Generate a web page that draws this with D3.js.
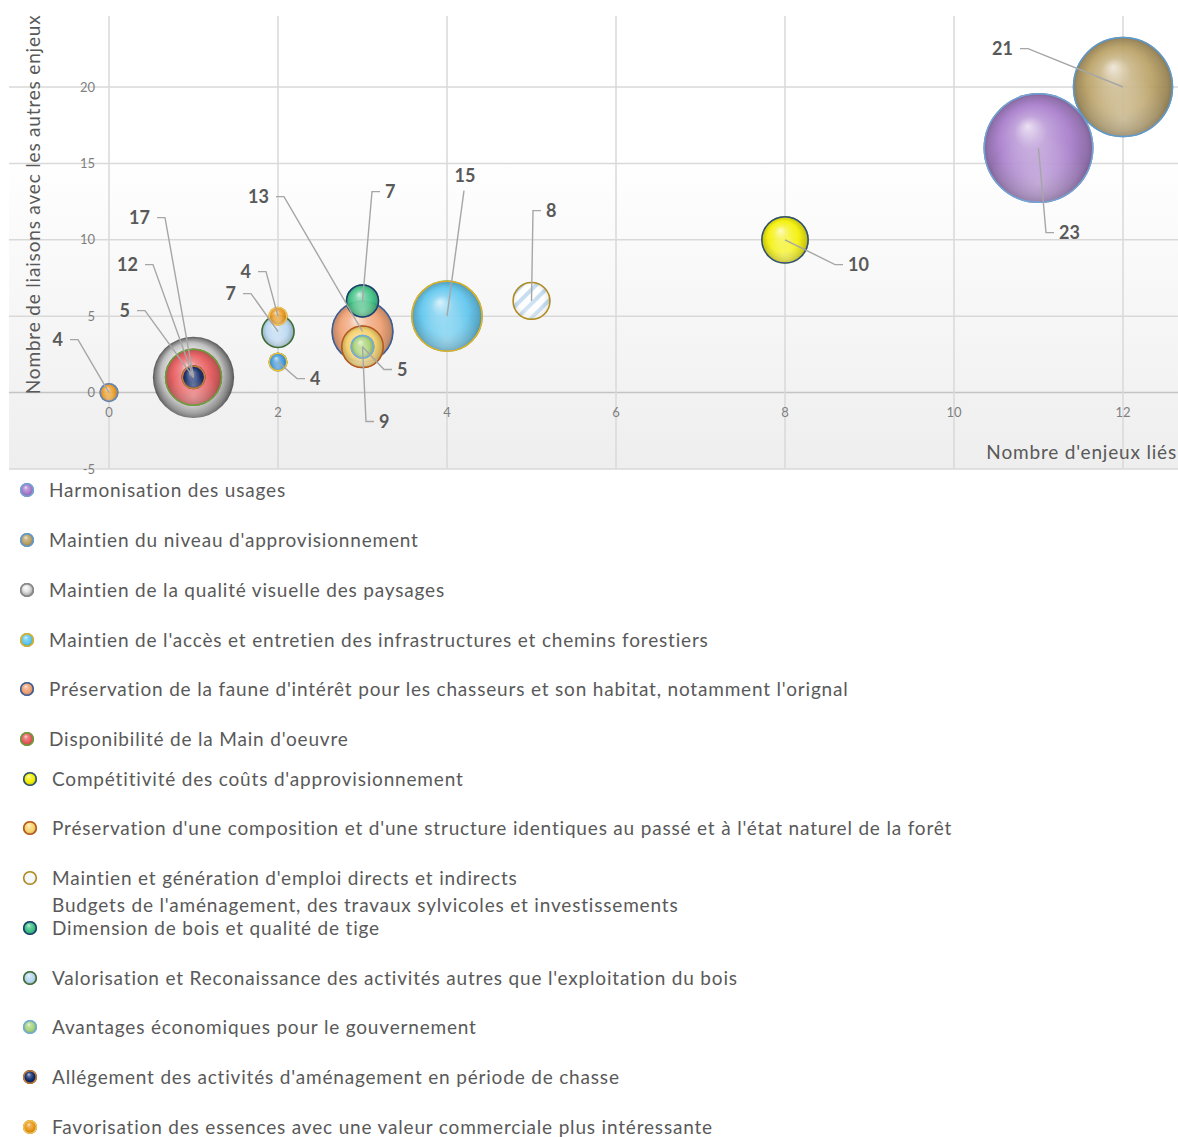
<!DOCTYPE html>
<html lang="fr">
<head>
<meta charset="utf-8">
<script src="https://cdn.jsdelivr.net/npm/d3@7"></script>
<style>
  html, body { margin: 0; padding: 0; background: #ffffff; }
  svg { display: block; font-family: Lato, "Open Sans", sans-serif; }
</style>
</head>
<body>
<svg id="chart" width="1178" height="1137"></svg>
<script>
// ---- Series (legend order) ----
const seriesNames = [
  "Harmonisation des usages",
  "Maintien du niveau d'approvisionnement",
  "Maintien de la qualité visuelle des paysages",
  "Maintien de l'accès et entretien des infrastructures et chemins forestiers",
  "Préservation de la faune d'intérêt pour les chasseurs et son habitat, notamment l'orignal",
  "Disponibilité de la Main d'oeuvre",
  "Compétitivité des coûts d'approvisionnement",
  "Préservation d'une composition et d'une structure identiques au passé et à l'état naturel de la forêt",
  "Maintien et génération d'emploi directs et indirects",
  "Budgets de l'aménagement, des travaux sylvicoles et investissements",
  "Dimension de bois et qualité de tige",
  "Valorisation et Reconaissance des activités autres que l'exploitation du bois",
  "Avantages économiques pour le gouvernement",
  "Allégement des activités d'aménagement en période de chasse",
  "Favorisation des essences avec une valeur commerciale plus intéressante"
];

// ---- Bubbles: series index, linked issues (x), links (y), bubble size ----
const pointSeries = [0, 1, 2, 3, 4, 5, 6, 7, 8, 9, 10, 11, 12, 13, 14, 14];
const pointX      = [11, 12, 1, 4, 3, 1, 8, 3, 5, 2, 3, 2, 3, 1, 2, 0];
const pointY      = [16, 20, 1, 5, 4, 1, 10, 3, 6, 2, 6, 4, 3, 1, 5, 0];
const pointSize   = [23, 21, 17, 15, 13, 12, 10, 9, 8, 4, 7, 7, 5, 5, 4, 4];

// ---- Axis ticks ----
const xTicks = [0, 2, 4, 6, 8, 10, 12];
const yTicks = [-5, 0, 5, 10, 15, 20];
const xTitle = "Nombre d'enjeux liés";
const yTitle = "Nombre de liaisons avec les autres enjeux";

// ---- Appearance ----
const seriesStyle = [
  { fill: "#a77ccb", stroke: "#6fa6d8" },
  { fill: "#b9a064", stroke: "#5b9bd5" },
  { fill: "#c4c4c4", stroke: "none", gray: true },
  { fill: "#5ec6ee", stroke: "#e2b21c" },
  { fill: "#f0a072", stroke: "#35609f" },
  { fill: "#e85a5c", stroke: "#66a33a" },
  { fill: "#f4f000", stroke: "#2b4f7f" },
  { fill: "#f6d46e", stroke: "#b8561c" },
  { fill: "#ffffff", stroke: "#b08a18", striped: true },
  { fill: "#3592d8", stroke: "#efc12a", noLegend: true },
  { fill: "#3cc283", stroke: "#1f3c72" },
  { fill: "#b6d6f0", stroke: "#3e6e2c" },
  { fill: "#a7d47a", stroke: "#70ade0" },
  { fill: "#0b2a6c", stroke: "#c77a32" },
  { fill: "#e8961a", stroke: "#f2c454" }
];
// outline override for the bubble sitting on the origin
const pointStrokeOverride = { 15: "#5a86c8" };

// Data-label placement: elbow offset from the bubble centre and text side
const labelLayout = [
  { dx: 7.5, dy: 84.5, side: 1 },
  { dx: -95, dy: -38.4, side: -1 },
  { dx: -28.5, dy: -159.7, side: -1 },
  { dx: 17, dy: -125.6, side: 0 },
  { dx: -78.5, dy: -134.9, side: -1 },
  { dx: -40.5, dy: -112.7, side: -1 },
  { dx: 50, dy: 24.8, side: 1 },
  { dx: 3.5, dy: 74.8, side: 1 },
  { dx: 1.5, dy: -90.3, side: 1 },
  { dx: 19, dy: 16.6, side: 1 },
  { dx: 9.5, dy: -109.3, side: 1 },
  { dx: -27, dy: -37.9, side: -1 },
  { dx: 21.5, dy: 22.8, side: 1 },
  { dx: -48.5, dy: -66.7, side: -1 },
  { dx: -12, dy: -44.6, side: -1 },
  { dx: -31, dy: -53, side: -1 }
];

const svg = d3.select("#chart");
const plot = { left: 9, right: 1178, top: 16, bottom: 469 };
const textSpacing = "0.82px";

const x = d3.scaleLinear().domain([0, 12]).range([109, 1123]);
const y = d3.scaleLinear().domain([-5, 20]).range([469, 87]);
const r = d3.scaleLinear().domain([0, 23]).range([0, 55]);

const defs = svg.append("defs");

// plot background
const bg = defs.append("linearGradient").attr("id", "plotBg")
  .attr("x1", 0).attr("y1", 0).attr("x2", 0).attr("y2", 1);
bg.append("stop").attr("offset", "0%").attr("stop-color", "#ffffff");
bg.append("stop").attr("offset", "30%").attr("stop-color", "#ffffff");
bg.append("stop").attr("offset", "100%").attr("stop-color", "#eeeeee");

const mix = (a, b, t) => d3.interpolateRgb(a, b)(t);

function sphereGradient(id, base, gray) {
  const g = defs.append("radialGradient").attr("id", id)
    .attr("cx", "50%").attr("cy", "50%").attr("r", "50%")
    .attr("fx", "40%").attr("fy", "30%");
  const stops = gray
    ? [[0, "#ffffff"], [0.45, "#e6e6e6"], [0.75, "#bcbcbc"], [0.92, "#777777"], [1, "#4a4a4a"]]
    : [[0, mix(base, "#ffffff", 0.75)], [0.3, mix(base, "#ffffff", 0.25)],
       [0.65, base], [0.9, mix(base, "#000000", 0.18)], [1, mix(base, "#000000", 0.32)]];
  stops.forEach(([o, c]) => g.append("stop").attr("offset", o).attr("stop-color", c));
}
seriesStyle.forEach((s, i) => sphereGradient("sph" + i, s.fill, s.gray));

// soft reflection near the bottom of each sphere
const refl = defs.append("radialGradient").attr("id", "reflect")
  .attr("cx", "50%").attr("cy", "82%").attr("r", "45%");
refl.append("stop").attr("offset", "0%").attr("stop-color", "#ffffff").attr("stop-opacity", 0.35);
refl.append("stop").attr("offset", "100%").attr("stop-color", "#ffffff").attr("stop-opacity", 0);

// diagonal stripes
const pat = defs.append("pattern").attr("id", "stripes")
  .attr("patternUnits", "userSpaceOnUse").attr("width", 10).attr("height", 10)
  .attr("patternTransform", "rotate(-45)");
pat.append("rect").attr("width", 10).attr("height", 10).attr("fill", "#ffffff");
pat.append("rect").attr("width", 10).attr("height", 4).attr("fill", "#a9cdea");

// ---- plot area ----
svg.append("rect")
  .attr("x", plot.left).attr("y", plot.top)
  .attr("width", plot.right - plot.left).attr("height", plot.bottom - plot.top)
  .attr("fill", "url(#plotBg)");

const grid = svg.append("g");
grid.selectAll("line.h").data(yTicks).join("line")
  .attr("x1", plot.left).attr("x2", plot.right)
  .attr("y1", d => y(d)).attr("y2", d => y(d))
  .attr("stroke", d => d === 0 ? "#c4c4c4" : "#d9d9d9").attr("stroke-width", 1.5);
grid.selectAll("line.v").data(xTicks).join("line")
  .attr("y1", plot.top).attr("y2", plot.bottom)
  .attr("x1", d => x(d)).attr("x2", d => x(d))
  .attr("stroke", "#d9d9d9").attr("stroke-width", 1.5);

// tick labels
svg.append("g").selectAll("text").data(yTicks).join("text")
  .attr("x", x(0) - 14).attr("y", d => y(d)).attr("dy", "0.35em")
  .attr("text-anchor", "end").attr("font-size", 13).attr("fill", "#7f7f7f")
  .text(d => d);
svg.append("g").selectAll("text").data(xTicks).join("text")
  .attr("x", d => x(d)).attr("y", y(0) + 20).attr("dy", "0.35em")
  .attr("text-anchor", "middle").attr("font-size", 13).attr("fill", "#7f7f7f")
  .text(d => d);

// axis titles
svg.append("text")
  .attr("transform", `translate(40, ${(plot.top + y(0)) / 2}) rotate(-90)`)
  .attr("text-anchor", "middle").attr("font-size", 19).attr("fill", "#595959")
  .attr("letter-spacing", textSpacing)
  .text(yTitle);
svg.append("text")
  .attr("x", plot.right - 1).attr("y", 452).attr("dy", "0.35em")
  .attr("text-anchor", "end").attr("font-size", 19).attr("fill", "#595959")
  .attr("letter-spacing", textSpacing)
  .text(xTitle);

// ---- bubbles (larger drawn first) ----
const points = pointSeries.map((s, i) => ({
  i, s, x: pointX[i], y: pointY[i], size: pointSize[i]
}));
const order = points.slice().sort((a, b) => b.size - a.size || a.i - b.i);

const bubbles = svg.append("g").selectAll("g").data(order).join("g")
  .attr("transform", d => `translate(${x(d.x)},${y(d.y)})`);

bubbles.each(function (d) {
  const g = d3.select(this);
  const st = seriesStyle[d.s];
  const rad = r(d.size);
  if (st.striped) {
    g.append("circle").attr("r", rad).attr("fill", "url(#stripes)");
    g.append("circle").attr("r", rad).attr("fill", "url(#sph" + d.s + ")").attr("fill-opacity", 0.35);
  } else {
    g.append("circle").attr("r", rad).attr("fill", "url(#sph" + d.s + ")").attr("fill-opacity", 0.93);
  }
  g.append("circle").attr("r", rad).attr("fill", "url(#reflect)");
  const stroke = pointStrokeOverride[d.i] || st.stroke;
  if (stroke !== "none") {
    g.append("circle").attr("r", rad - 0.75).attr("fill", "none")
      .attr("stroke", stroke).attr("stroke-width", 1.5);
  }
});

// ---- data labels with leader lines ----
const labels = svg.append("g");
points.forEach(p => {
  const L = labelLayout[p.i];
  const cx = x(p.x), cy = y(p.y);
  const ex = cx + L.dx, ey = cy + L.dy;
  let pts, tx, ty, anchor;
  if (L.side === 0) {
    pts = [[cx, cy], [ex, ey]];
    tx = ex + 1; ty = ey - 15; anchor = "middle";
  } else {
    pts = [[cx, cy], [ex, ey], [ex + L.side * 8, ey]];
    tx = ex + (L.side > 0 ? 13 : -15); ty = ey; anchor = L.side > 0 ? "start" : "end";
  }
  labels.append("path")
    .attr("d", d3.line()(pts))
    .attr("fill", "none").attr("stroke", "#a6a6a6").attr("stroke-width", 1.4);
  labels.append("text")
    .attr("x", tx).attr("y", ty).attr("dy", "0.35em")
    .attr("text-anchor", anchor).attr("font-size", 18).attr("font-weight", 700)
    .attr("fill", "#595959").text(p.size);
});

// ---- legend ----
const legendRowY = [490, 540, 590, 640, 689, 739, 779, 828, 878, 905, 928, 978, 1027, 1077, 1127];
const legend = svg.append("g");
seriesNames.forEach((name, i) => {
  const st = seriesStyle[i];
  const mx = i < 6 ? 27 : 30;
  const row = legend.append("g").attr("transform", `translate(0,${legendRowY[i]})`);
  if (!st.noLegend) {
    if (st.striped) {
      row.append("circle").attr("cx", mx).attr("r", 7).attr("fill", "#eef4fb");
      row.append("circle").attr("cx", mx).attr("r", 7).attr("fill", "url(#sph" + i + ")").attr("fill-opacity", 0.4);
    } else {
      row.append("circle").attr("cx", mx).attr("r", 7).attr("fill", "url(#sph" + i + ")");
    }
    const stroke = st.stroke === "none" ? "#8a8a8a" : st.stroke;
    row.append("circle").attr("cx", mx).attr("r", 6.3).attr("fill", "none")
      .attr("stroke", stroke).attr("stroke-width", 1.6);
  }
  row.append("text")
    .attr("x", i < 6 ? 49 : 52).attr("y", 0).attr("dy", "0.35em")
    .attr("font-size", 19).attr("fill", "#595959")
    .attr("letter-spacing", textSpacing).text(name);
});
</script>
</body>
</html>
